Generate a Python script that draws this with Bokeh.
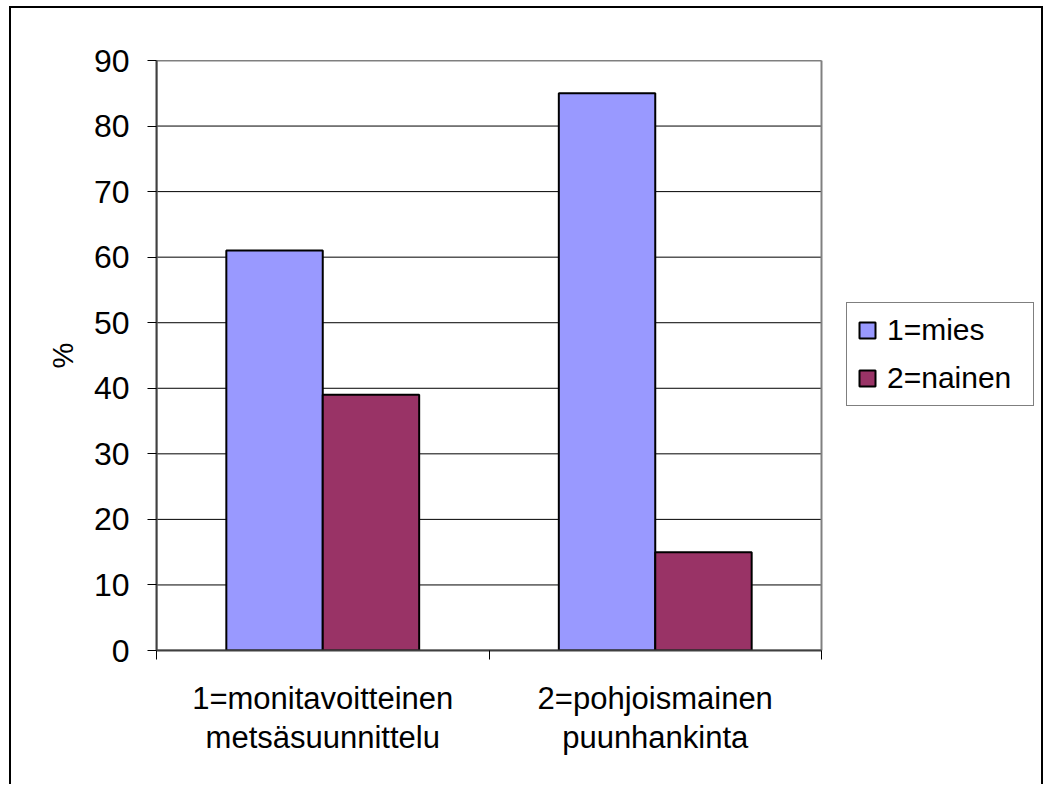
from bokeh.plotting import figure
from bokeh.models import Range1d, FixedTicker, Legend, LegendItem
from bokeh.embed import file_html
from bokeh.resources import INLINE
import numpy as np

categories = ["1=monitavoitteinen\nmetsäsuunnittelu", "2=pohjoismainen\npuunhankinta"]
series_names = ["1=mies", "2=nainen"]
mies = [61, 85]
nainen = [39, 15]
colors = ["#9999FF", "#993366"]
y_ticks = list(range(0, 100, 10))

FONT = "Liberation Sans"
n = len(categories)
y_max = y_ticks[-1]
centers = np.arange(n) + 0.5
bar_w = 0.29

PLOT_PX = 665     # width of the bar area
FRAME_PX = 885    # frame also holds the legend on the right
x_end = n * FRAME_PX / PLOT_PX

p = figure(frame_width=FRAME_PX, frame_height=590, output_backend="svg", toolbar_location=None,
           x_range=Range1d(0, x_end), y_range=Range1d(0, y_max),
           min_border_left=145, min_border_right=0, min_border_top=52, min_border_bottom=134)
p.styles = {"border-left": "2px solid black", "border-top": "2px solid black",
            "border-right": "2px solid black", "margin-left": "9px", "margin-top": "6px"}
p.background_fill_color = "white"
p.border_fill_color = "white"
p.outline_line_color = None
p.xgrid.grid_line_color = None
p.ygrid.grid_line_color = None

# horizontal gridlines over the bar area only
p.segment(x0=[0] * len(y_ticks), x1=[n] * len(y_ticks), y0=y_ticks, y1=y_ticks,
          line_color="black", line_width=1)
# plot-area border (grey)
p.quad(left=[0], right=[n], bottom=[0], top=[y_max], fill_color=None,
       line_color="#808080", line_width=2)

r1 = p.vbar(x=centers - bar_w / 2, top=mies, width=bar_w, fill_color=colors[0],
            line_color="black", line_width=2)
r2 = p.vbar(x=centers + bar_w / 2, top=nainen, width=bar_w, fill_color=colors[1],
            line_color="black", line_width=2)

# y axis
p.yaxis.ticker = FixedTicker(ticks=y_ticks)
p.yaxis.axis_label = "%"
p.yaxis.axis_label_text_font = FONT
p.yaxis.axis_label_text_font_size = "29px"
p.yaxis.axis_label_text_font_style = "normal"
p.yaxis.axis_label_text_color = "black"
p.yaxis.axis_label_standoff = 12
p.yaxis.major_label_text_font = FONT
p.yaxis.major_label_text_font_size = "32px"
p.yaxis.major_label_text_color = "black"
p.yaxis.major_label_standoff = 18
p.yaxis.major_tick_in = 0
p.yaxis.major_tick_out = 9
p.yaxis.major_tick_line_color = "black"
p.yaxis.minor_tick_line_color = None
p.yaxis.axis_line_color = "#404040"
p.yaxis.axis_line_width = 2

# x axis
p.xaxis.ticker = FixedTicker(ticks=list(centers), minor_ticks=list(range(n + 1)))
p.xaxis.bounds = (0, n)
p.xaxis.major_label_overrides = {float(c): lab for c, lab in zip(centers, categories)}
p.xaxis.major_label_text_font = FONT
p.xaxis.major_label_text_font_size = "31px"
p.xaxis.major_label_text_color = "black"
p.xaxis.major_label_text_line_height = 1.13
p.xaxis.major_label_standoff = 21
p.xaxis.major_tick_in = 0
p.xaxis.major_tick_out = 0
p.xaxis.minor_tick_in = 0
p.xaxis.minor_tick_out = 9
p.xaxis.minor_tick_line_color = "black"
p.xaxis.axis_line_color = "#404040"
p.xaxis.axis_line_width = 2

legend = Legend(items=[LegendItem(label=series_names[0], renderers=[r1]),
                       LegendItem(label=series_names[1], renderers=[r2])],
                location=(690, 244))
legend.border_line_color = "black"
legend.border_line_width = 1
legend.background_fill_color = "white"
legend.background_fill_alpha = 1
legend.label_text_font = FONT
legend.label_text_font_size = "30px"
legend.label_text_color = "black"
legend.glyph_width = 20
legend.glyph_height = 20
legend.label_height = 34
legend.label_width = 136
legend.label_standoff = 10
legend.spacing = 14
legend.padding = 10
legend.margin = 0
p.add_layout(legend, "center")

open("out.html", "w").write(file_html(p, INLINE))
